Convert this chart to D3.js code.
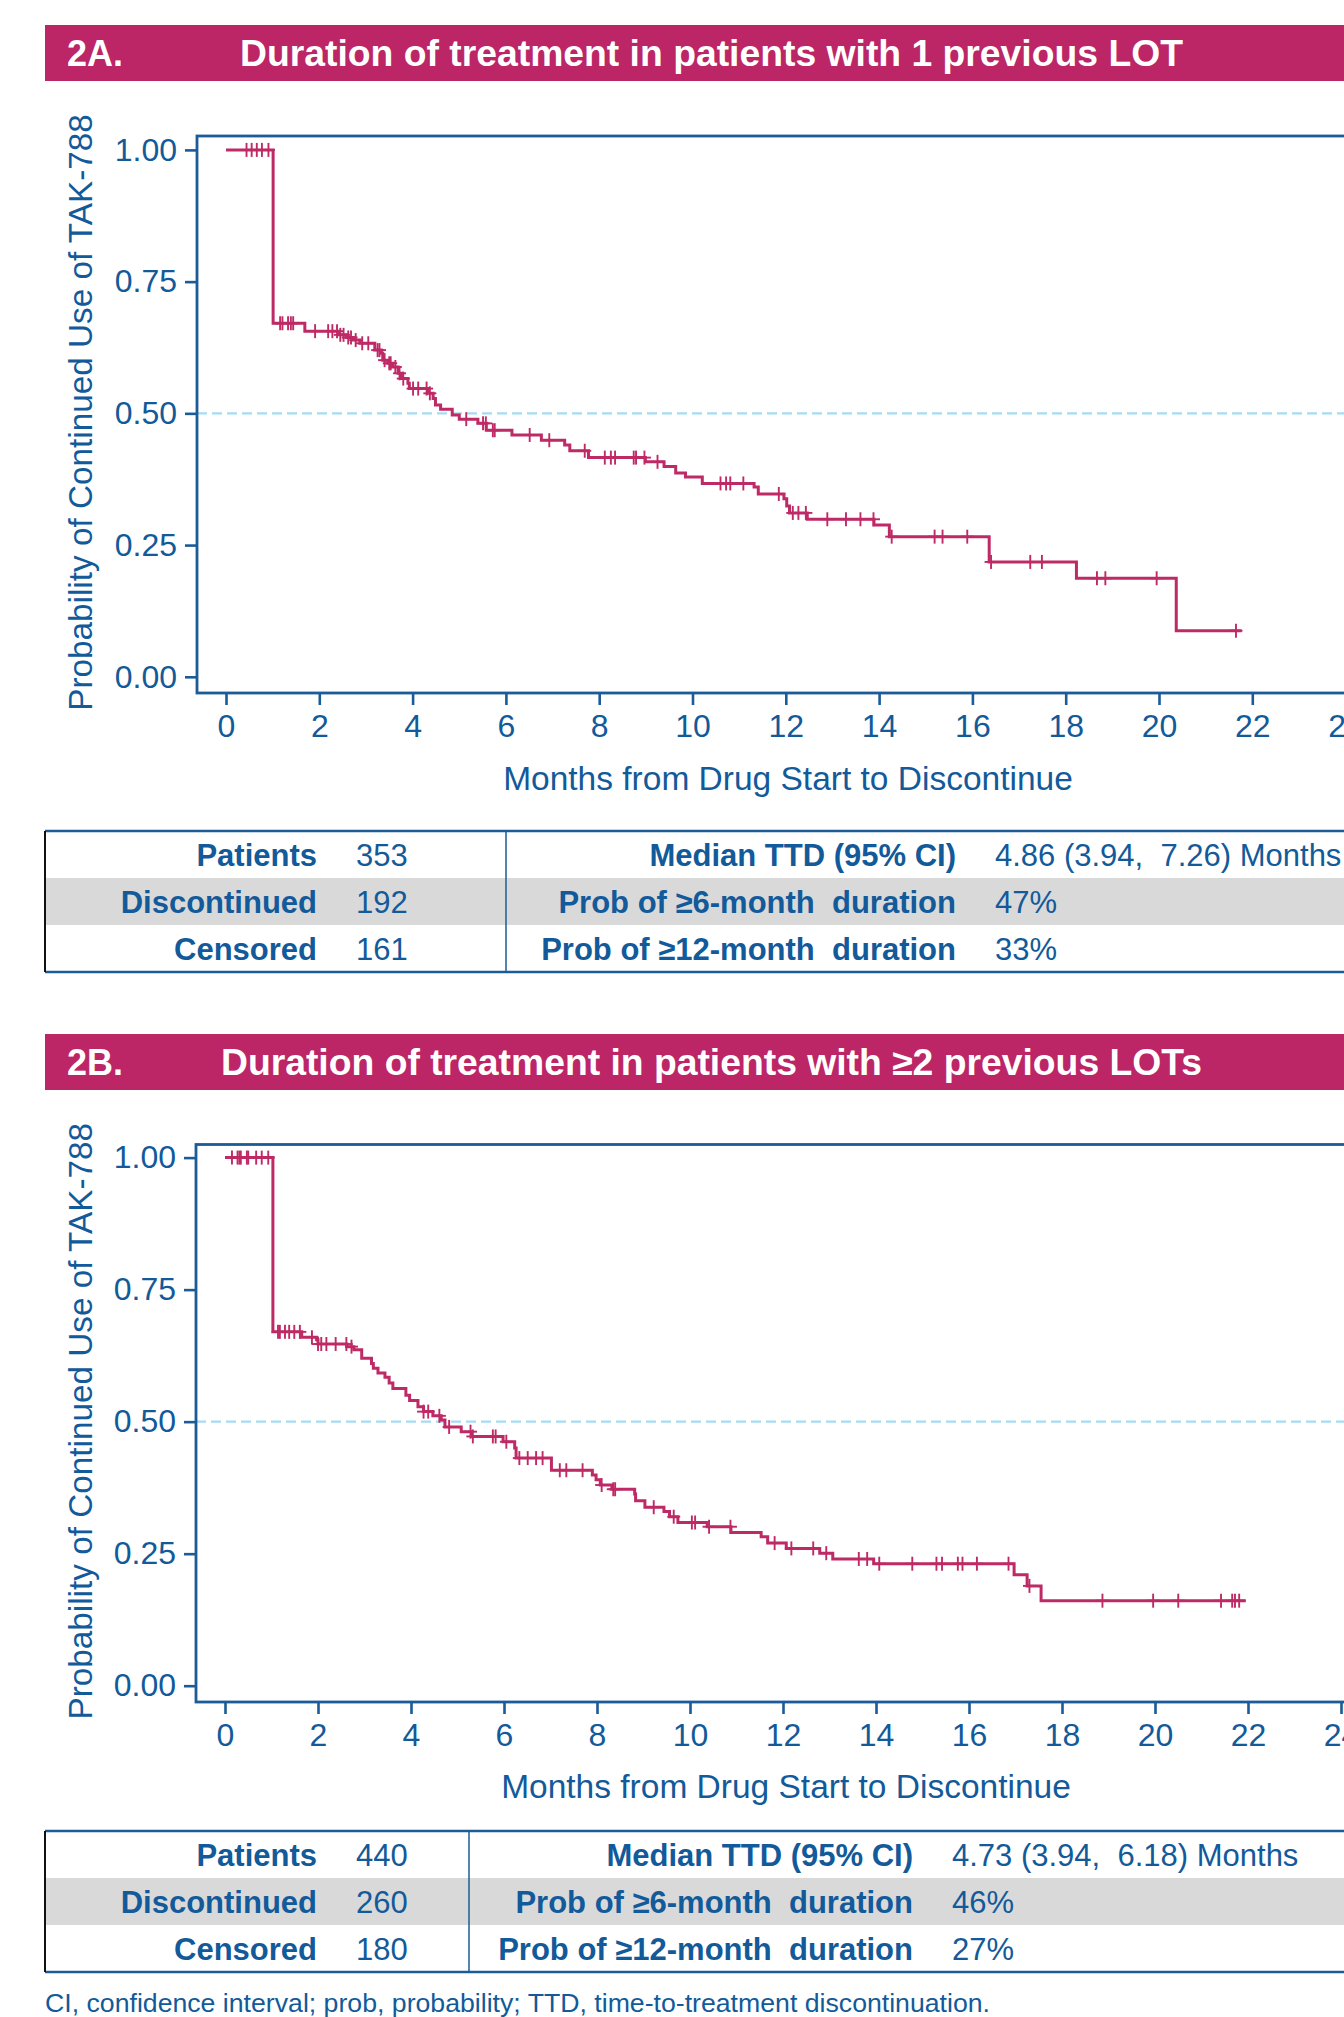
<!DOCTYPE html>
<html><head><meta charset="utf-8">
<script src="https://cdn.jsdelivr.net/npm/d3@7"></script>
<style>
html,body{margin:0;padding:0;background:#fff;}
svg{display:block;font-family:"Liberation Sans",Arial,sans-serif;}
</style></head><body>
<svg id="chart" width="1344" height="2017"></svg>
<script>
// ---------- data ----------
const monthTicks = [0,2,4,6,8,10,12,14,16,18,20,22,24];
const probTicks = [0,0.25,0.5,0.75,1];
const probTickLabels = ["0.00","0.25","0.50","0.75","1.00"];

// Panel A: 1 previous LOT
const stepTimesA = [1.01,1.69,2.41,2.58,2.73,2.87,3.19,3.33,3.36,3.47,3.57,3.69,3.76,3.90,3.93,4.33,4.44,4.49,4.60,4.85,5.00,5.40,5.58,6.13,6.76,7.26,7.37,7.77,8.99,9.39,9.64,9.85,10.21,11.32,11.41,11.96,12.02,12.08,12.46,13.89,14.22,16.36,18.23,20.37];
const survA = [0.671,0.656,0.649,0.644,0.639,0.633,0.620,0.614,0.601,0.595,0.588,0.576,0.566,0.557,0.547,0.538,0.528,0.516,0.508,0.497,0.489,0.481,0.468,0.459,0.449,0.440,0.429,0.416,0.408,0.399,0.387,0.379,0.367,0.360,0.347,0.338,0.324,0.311,0.299,0.288,0.266,0.218,0.187,0.0875];
const censorA = [0.44,0.55,0.66,0.77,0.91,1.16,1.21,1.33,1.39,1.44,1.91,2.19,2.28,2.38,2.45,2.52,2.62,2.68,2.78,2.92,3.05,3.25,3.29,3.40,3.50,3.53,3.63,3.72,3.80,4.01,4.12,4.30,4.37,5.15,5.51,5.57,5.72,5.76,6.51,6.93,7.69,8.12,8.25,8.34,8.74,8.79,8.97,9.25,10.60,10.72,10.81,11.09,11.85,12.15,12.27,12.43,12.89,13.29,13.60,13.88,14.27,15.19,15.36,15.89,16.40,17.24,17.49,18.67,18.85,19.95,21.65];
const endA = 21.77;

// Panel B: >=2 previous LOTs
const stepTimesB = [1.03,1.65,1.97,2.00,2.62,2.77,2.94,3.15,3.19,3.29,3.44,3.53,3.61,3.89,3.97,4.15,4.27,4.47,4.65,4.73,5.08,5.30,5.98,6.23,6.26,7.02,7.90,7.98,8.07,8.32,8.81,8.83,9.03,9.44,9.56,9.74,10.37,10.88,11.53,11.67,12.07,12.79,13.07,13.95,16.97,17.25,17.55];
const survB = [0.670,0.660,0.655,0.647,0.642,0.636,0.620,0.610,0.601,0.592,0.584,0.573,0.563,0.550,0.540,0.528,0.519,0.511,0.503,0.490,0.481,0.472,0.462,0.450,0.431,0.408,0.399,0.390,0.380,0.372,0.363,0.350,0.338,0.330,0.320,0.309,0.301,0.290,0.282,0.270,0.260,0.251,0.240,0.231,0.210,0.189,0.161];
const censorB = [0.15,0.27,0.31,0.34,0.47,0.50,0.67,0.79,0.93,1.14,1.18,1.29,1.38,1.49,1.61,1.87,2.00,2.07,2.18,2.38,2.61,2.72,4.27,4.37,4.61,4.82,5.28,5.33,5.76,5.82,6.05,6.33,6.51,6.69,6.83,7.20,7.34,7.69,8.10,8.35,8.39,9.22,9.65,10.04,10.11,10.41,10.87,11.82,12.18,12.65,12.93,13.63,13.81,14.07,14.78,15.30,15.42,15.76,15.86,16.17,16.85,17.30,18.87,19.96,20.50,21.42,21.66,21.72,21.81];
const endB = 21.95;

const titlesA = ["2A.","Duration of treatment in patients with 1 previous LOT"];
const titlesB = ["2B.","Duration of treatment in patients with \u22652 previous LOTs"];
const yAxisTitle = "Probability of Continued Use of TAK-788";
const xAxisTitle = "Months from Drug Start to Discontinue";

const countLabels = ["Patients","Discontinued","Censored"];
const countValsA = ["353","192","161"];
const countValsB = ["440","260","180"];
const statLabels = ["Median TTD (95% CI)","Prob of \u22656-month  duration","Prob of \u226512-month  duration"];
const statValsA = ["4.86 (3.94,  7.26) Months","47%","33%"];
const statValsB = ["4.73 (3.94,  6.18) Months","46%","27%"];
const footnote = "CI, confidence interval; prob, probability; TTD, time-to-treatment discontinuation.";

// ---------- style ----------
const MAGENTA = "#BC2566";
const LINE = "#BE2A66";
const BLUE = "#1A5B98";
const TEXTBLUE = "#125A99";
const DASH = "#A6DBF5";
const GRAY = "#D9D9D9";

const svg = d3.select("#chart");

function panel(cfg) {
  const g = svg.append("g");
  // title bar
  g.append("rect").attr("x",45).attr("y",cfg.barTop).attr("width",1344-45).attr("height",cfg.barH).attr("fill",MAGENTA);
  g.append("text").attr("x",67).attr("y",cfg.barTop+41).attr("fill","#fff")
    .attr("font-weight","bold").attr("font-size",36).text(cfg.titles[0]);
  g.append("text").attr("x",cfg.titleX).attr("y",cfg.barTop+41).attr("fill","#fff")
    .attr("font-weight","bold").attr("font-size",36)
    .attr("textLength",cfg.titleLen).attr("lengthAdjust","spacingAndGlyphs").text(cfg.titles[1]);

  const x = d3.scaleLinear().domain([0,24]).range([cfg.x0, cfg.x0 + 24*cfg.perMonth]);
  const y = d3.scaleLinear().domain([0,1]).range([cfg.y0, cfg.y1]);
  const fL = cfg.frameLeft, fT = cfg.frameTop, fB = cfg.frameBottom, fR = 1380;

  // reference line at 0.5
  g.append("line").attr("x1",fL).attr("x2",fR).attr("y1",y(0.5)).attr("y2",y(0.5))
    .attr("stroke",DASH).attr("stroke-width",2.4).attr("stroke-dasharray","10,5");

  // axes
  const yAxis = d3.axisLeft(y).tickValues(probTicks).tickFormat((d,i)=>probTickLabels[i]).tickSize(12).tickPadding(8);
  const ya = g.append("g").attr("transform",`translate(${fL},0)`).call(yAxis);
  const xAxis = d3.axisBottom(x).tickValues(monthTicks).tickFormat(d3.format("d")).tickSize(12).tickPadding(9);
  const xa = g.append("g").attr("transform",`translate(0,${fB})`).call(xAxis);
  [ya,xa].forEach(a=>{
    a.select(".domain").remove();
    a.selectAll(".tick line").attr("stroke",BLUE).attr("stroke-width",2.6);
    a.selectAll(".tick text").attr("fill",TEXTBLUE).attr("font-size",32).attr("font-family","Liberation Sans, Arial, sans-serif");
  });
  // frame
  g.append("rect").attr("x",fL).attr("y",fT).attr("width",fR-fL).attr("height",fB-fT)
    .attr("fill","none").attr("stroke",BLUE).attr("stroke-width",2.8);

  // axis titles
  g.append("text").attr("x",cfg.xTitleX).attr("y",cfg.xTitleY).attr("text-anchor","middle")
    .attr("fill",TEXTBLUE).attr("font-size",33.5).text(xAxisTitle);
  g.append("text").attr("transform",`translate(${cfg.yTitleX},${(fT+fB)/2 - 2}) rotate(-90)`)
    .attr("text-anchor","middle").attr("fill",TEXTBLUE).attr("font-size",33.3).text(yAxisTitle);

  // KM curve
  const pts = [{t:0,s:1}];
  cfg.times.forEach((t,i)=>pts.push({t:t,s:cfg.surv[i]}));
  pts.push({t:cfg.end,s:cfg.surv[cfg.surv.length-1]});
  const line = d3.line().x(d=>x(d.t)).y(d=>y(d.s)).curve(d3.curveStepAfter);
  g.append("path").datum(pts).attr("d",line).attr("fill","none").attr("stroke",LINE)
    .attr("stroke-width",3).attr("stroke-linejoin","miter");

  const survAt = t => { let s = 1; cfg.times.forEach((tt,i)=>{ if (tt<=t) s = cfg.surv[i]; }); return s; };
  const cg = g.append("g").attr("stroke",LINE).attr("stroke-width",1.9);
  cfg.censor.forEach(t=>{
    const cx = x(t), cy = y(survAt(t));
    cg.append("line").attr("x1",cx).attr("x2",cx).attr("y1",cy-7).attr("y2",cy+7);
    cg.append("line").attr("x1",cx-6.5).attr("x2",cx+6.5).attr("y1",cy).attr("y2",cy);
  });

  // table
  const tT = cfg.tableTop, rh = cfg.rowH, tB = tT + 3*rh;
  const tg = g.append("g");
  tg.append("rect").attr("x",45).attr("y",tT+rh).attr("width",1344-45).attr("height",rh).attr("fill",GRAY);
  tg.append("line").attr("x1",45).attr("x2",1344).attr("y1",tT).attr("y2",tT).attr("stroke",BLUE).attr("stroke-width",2.5);
  tg.append("line").attr("x1",45).attr("x2",1344).attr("y1",tB).attr("y2",tB).attr("stroke",BLUE).attr("stroke-width",2.5);
  tg.append("line").attr("x1",45).attr("x2",45).attr("y1",tT).attr("y2",tB).attr("stroke","#111").attr("stroke-width",2);
  tg.append("line").attr("x1",cfg.divX).attr("x2",cfg.divX).attr("y1",tT).attr("y2",tB).attr("stroke",BLUE).attr("stroke-width",1.5);
  countLabels.forEach((lab,i)=>{
    const by = tT + rh*i + rh/2 + 11;
    tg.append("text").attr("x",317).attr("y",by).attr("text-anchor","end").attr("font-weight","bold")
      .attr("font-size",31).attr("fill",TEXTBLUE).text(lab);
    tg.append("text").attr("x",356).attr("y",by).attr("font-size",31).attr("fill",TEXTBLUE).text(cfg.counts[i]);
    tg.append("text").attr("x",cfg.statLabX).attr("y",by).attr("text-anchor","end").attr("font-weight","bold")
      .attr("font-size",31).attr("fill",TEXTBLUE).style("white-space","pre").text(statLabels[i]);
    tg.append("text").attr("x",cfg.statValX).attr("y",by).attr("font-size",31).attr("fill",TEXTBLUE)
      .style("white-space","pre").text(cfg.stats[i]);
  });
}

panel({barTop:25, barH:56, titles:titlesA, titleX:240, titleLen:943,
  x0:226, perMonth:46.65, y0:676.8, y1:149.9, frameLeft:197, frameTop:136, frameBottom:693,
  xTitleX:788, xTitleY:790, yTitleX:92,
  times:stepTimesA, surv:survA, censor:censorA, end:endA,
  tableTop:831, rowH:47, divX:506, statLabX:956, statValX:995, counts:countValsA, stats:statValsA});

panel({barTop:1034, barH:56, titles:titlesB, titleX:221, titleLen:981,
  x0:225, perMonth:46.5, y0:1685.7, y1:1157.6, frameLeft:196, frameTop:1144.5, frameBottom:1702,
  xTitleX:786, xTitleY:1798, yTitleX:92,
  times:stepTimesB, surv:survB, censor:censorB, end:endB,
  tableTop:1831, rowH:47, divX:469, statLabX:913, statValX:952, counts:countValsB, stats:statValsB});

svg.append("text").attr("x",45).attr("y",2012).attr("font-size",25).attr("fill",TEXTBLUE)
  .attr("textLength",945).attr("lengthAdjust","spacingAndGlyphs").text(footnote);
</script>
</body></html>
